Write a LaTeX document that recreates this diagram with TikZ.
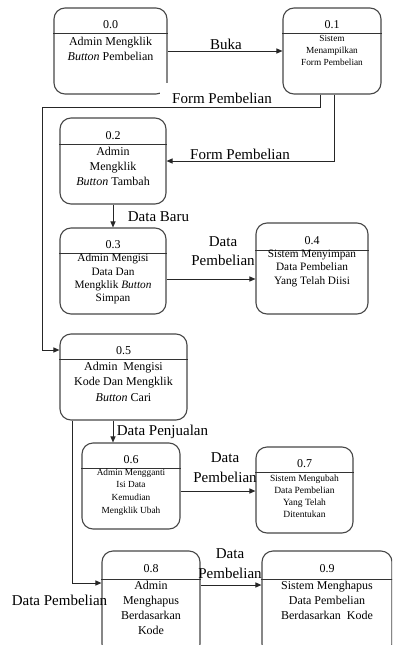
\documentclass[tikz,border=0pt]{standalone}
\usepackage{fontspec}
\setmainfont{Liberation Serif}
\usetikzlibrary{arrows.meta,calc}
\begin{document}
\begin{tikzpicture}[x=1pt,y=-1pt,
  box/.style={draw=black!72, line width=1.1pt, rounded corners=11pt, inner sep=0pt},
  sepline/.style={draw=black!80, line width=1pt},
  conn/.style={draw=black!85, line width=1pt},
  arr/.style={conn, -{Triangle[length=6pt,width=5pt]}},
  num/.style={inner sep=0pt, font=\fontsize{12}{14}\selectfont},
  big/.style={inner sep=0pt, align=center, font=\fontsize{12}{15}\selectfont},
  mid/.style={inner sep=0pt, align=center, font=\fontsize{11.3}{13.3}\selectfont},
  small/.style={inner sep=0pt, align=center, font=\fontsize{9.3}{12.3}\selectfont},
  lbl/.style={inner sep=0pt, align=center, font=\fontsize{15}{19.5}\selectfont}]
\useasboundingbox (0,0) rectangle (392,645);
\begin{scope}
\clip (0,0) rectangle (392,645);
% boxes
\node[box, minimum width=113pt, minimum height=86pt] (b0) at (110.5,51) {};
\node[box, minimum width=98pt, minimum height=86pt] (b1) at (332,51) {};
\node[box, minimum width=106pt, minimum height=86pt] (b2) at (113,161) {};
\node[box, minimum width=106pt, minimum height=86pt] (b3) at (113,271) {};
\node[box, minimum width=112pt, minimum height=91pt] (b4) at (312,268.5) {};
\node[box, minimum width=127pt, minimum height=86pt] (b5) at (123.5,377) {};
\node[box, minimum width=98pt, minimum height=86pt] (b6) at (131,486) {};
\node[box, minimum width=97pt, minimum height=86pt] (b7) at (304.5,490) {};
\node[box, minimum width=98pt, minimum height=104pt] (b8) at (151,603) {};
\node[box, minimum width=130pt, minimum height=104pt] (b9) at (327,603) {};
\fill[white] (160,83) rectangle (170,97);
% separators
\draw[sepline] (b0.west |- 0,33) -- (b0.east |- 0,33);
\draw[sepline] (b1.west |- 0,33) -- (b1.east |- 0,33);
\draw[sepline] (b2.west |- 0,144) -- (b2.east |- 0,144);
\draw[sepline] (b3.west |- 0,253) -- (b3.east |- 0,253);
\draw[sepline] (b4.west |- 0,250) -- (b4.east |- 0,250);
\draw[sepline] (b5.west |- 0,359) -- (b5.east |- 0,359);
\draw[sepline] (b6.west |- 0,468) -- (b6.east |- 0,468);
\draw[sepline] (b7.west |- 0,472) -- (b7.east |- 0,472);
\draw[sepline] (b8.west |- 0,579) -- (b8.east |- 0,579);
\draw[sepline] (b9.west |- 0,579) -- (b9.east |- 0,579);
% numbers
\node[num] (n0) at (110.5,25) {0.0};
\node[num] (n1) at (332,25) {0.1};
\node[num] (n2) at (113,136) {0.2};
\node[num] (n3) at (113,245) {0.3};
\node[num] (n4) at (312,241) {0.4};
\node[num] (n5) at (123.5,351) {0.5};
\node[num] (n6) at (131,460) {0.6};
\node[num] (n7) at (304.5,464) {0.7};
\node[num] (n8) at (151,569) {0.8};
\node[num] (n9) at (327,569) {0.9};
% texts
\node[big] (t0) at (110.5,48.5) {Admin Mengklik\\\textit{Button} Pembelian};
\node[small, font=\fontsize{9.3}{12}\selectfont] (t1) at (332,50) {Sistem\\Menampilkan\\Form Pembelian};
\node[big] (t2) at (113,166) {Admin\\Mengklik\\\textit{Button} Tambah};
\node[mid] (t3) at (113,279) {Admin Mengisi\\Data Dan\\Mengklik \textit{Button}\\Simpan};
\node[mid, font=\fontsize{11.3}{13.5}\selectfont] (t4) at (312,268) {Sistem Menyimpan\\Data Pembelian\\Yang Telah Diisi};
\node[big, font=\fontsize{12}{15.5}\selectfont] (t5) at (123.5,381.5) {Admin\ \ Mengisi\\Kode Dan Mengklik\\\textit{Button} Cari};
\node[small, font=\fontsize{9.3}{12.7}\selectfont] (t6) at (131,492) {Admin Mengganti\\Isi Data\\Kemudian\\Mengklik Ubah};
\node[small, font=\fontsize{9.5}{12}\selectfont] (t7) at (304.5,496) {Sistem Mengubah\\Data Pembelian\\Yang Telah\\Ditentukan};
\node[big] (t8) at (151,607.5) {Admin\\Menghapus\\Berdasarkan\\Kode};
\node[big] (t9) at (327,600) {Sistem Menghapus\\Data Pembelian\\Berdasarkan\ \ Kode};
% connectors
\coordinate (fp1) at (42,107);
\draw[arr] (b0.east) -- (b1.west);
\draw[arr] ([xshift=-12pt]b1.south) |- (fp1) |- ([yshift=27pt]b5.west);
\draw[arr] ([xshift=2pt]b1.south) |- (b2.east);
\draw[arr] (b2.south) -- (b3.north);
\draw[arr] ([yshift=-8pt]b3.east) -- ([yshift=-8pt]b3.east -| b4.west);
\draw[arr] ([xshift=-10.5pt]b5.south) -- ([xshift=-10.5pt]b5.south |- b6.north);
\draw[arr] ([xshift=-51.5pt]b5.south) |- ([yshift=20pt]b8.west);
\draw[arr] ([yshift=-5pt]b6.east) -- ([yshift=-5pt]b6.east -| b7.west);
\draw[arr] ([yshift=18pt]b8.east) -- ([yshift=18pt]b8.east -| b9.west);
% labels
\node[lbl] (l0) at (226,44) {Buka};
\node[lbl] (l1) at (222,98) {Form Pembelian};
\node[lbl] (l2) at (240,154) {Form Pembelian};
\node[lbl] (l3) at (158.5,217) {Data Baru};
\node[lbl] (l4) at (223,251) {Data\\Pembelian};
\node[lbl] (l5) at (162.5,432) {Data Penjualan};
\node[lbl] (l6) at (225,467.5) {Data\\Pembelian};
\node[lbl] (l7) at (230,563.5) {Data\\Pembelian};
\node[lbl] (l8) at (59.5,600) {Data Pembelian};
\end{scope}
\end{tikzpicture}
\end{document}
